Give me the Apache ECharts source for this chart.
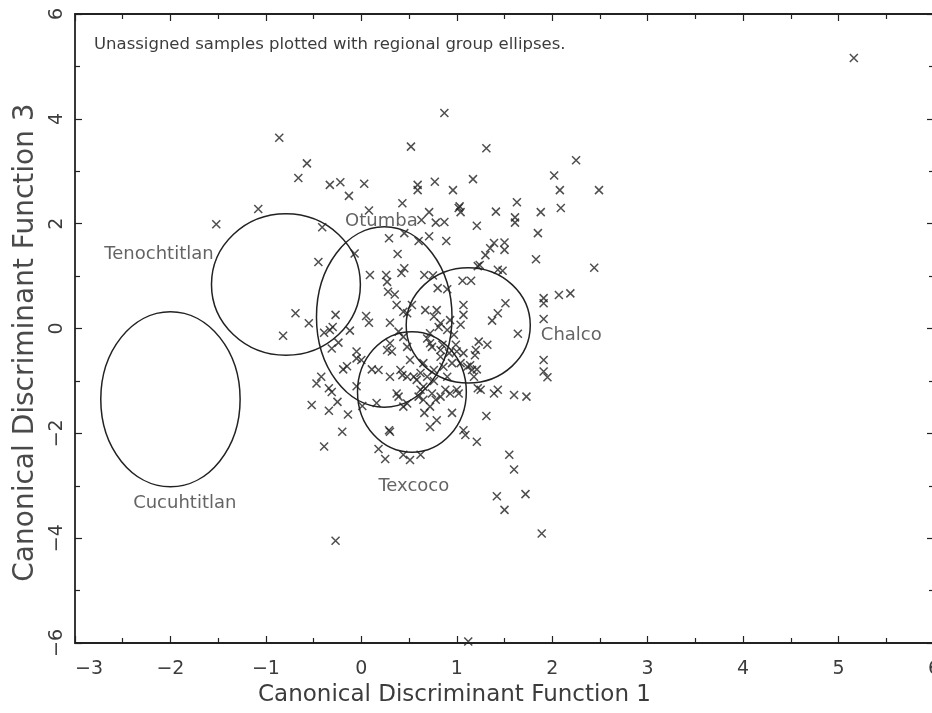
<!DOCTYPE html>
<html>
<head>
<meta charset="utf-8">
<script src="https://cdn.jsdelivr.net/npm/echarts@6/dist/echarts.min.js"></script>
<style>
html, body { margin: 0; padding: 0; background: #fff; }
#chart { width: 932px; height: 713px; }
</style>
</head>
<body>
<div id="chart"></div>
<script>
// unassigned samples (function 1, function 3)
var samples = [
  [0.87,4.11],[-0.86,3.64],[0.52,3.47],[1.31,3.44],[-0.57,3.15],[-0.66,2.87],[-0.33,2.74],[-0.22,2.79],
  [0.03,2.76],[-0.13,2.53],[0.59,2.74],[0.59,2.64],[0.77,2.80],[0.96,2.64],[1.17,2.85],[-1.08,2.28],
  [-1.52,1.99],[-0.41,1.93],[0.08,2.25],[0.43,2.39],[0.71,2.22],[0.63,2.07],[0.78,2.02],[0.87,2.03],
  [1.02,2.30],[1.03,2.33],[1.04,2.22],[1.41,2.23],[1.21,1.96],[0.45,1.82],[0.29,1.72],[0.60,1.67],
  [0.71,1.76],[0.89,1.67],[0.38,1.42],[-0.07,1.43],[-0.45,1.27],[0.09,1.02],[0.26,1.02],[0.27,0.89],
  [0.42,1.06],[0.45,1.15],[0.66,1.02],[0.75,1.01],[0.80,0.77],[0.90,0.75],[1.06,0.91],[1.15,0.91],
  [1.24,1.21],[1.22,1.19],[1.30,1.40],[1.35,1.53],[1.39,1.63],[1.43,1.12],[0.28,0.70],[0.35,0.65],
  [2.25,3.21],[2.02,2.92],[2.08,2.64],[2.49,2.64],[1.63,2.41],[1.88,2.22],[2.09,2.30],[1.61,2.12],
  [1.61,2.02],[1.85,1.82],[1.50,1.64],[1.50,1.50],[1.48,1.10],[1.83,1.32],[2.44,1.16],[1.91,0.58],
  [2.07,0.64],[2.19,0.67],[1.91,0.48],[1.91,0.18],[1.64,-0.10],[1.51,0.48],[1.43,0.29],[1.37,0.15],
  [1.07,0.45],[1.07,0.26],[1.04,0.07],[1.91,-0.60],[1.91,-0.82],[1.95,-0.93],[1.23,-0.25],[1.32,-0.31],
  [1.20,-0.41],[1.19,-0.51],[1.14,-0.70],[1.21,-0.78],[1.18,-0.92],[1.22,-1.14],[1.25,-1.17],[1.39,-1.24],
  [1.43,-1.17],[1.60,-1.27],[1.73,-1.30],[1.31,-1.67],[1.07,-1.94],[1.09,-2.03],[1.21,-2.16],[1.55,-2.41],
  [1.60,-2.69],[1.42,-3.20],[1.72,-3.16],[1.50,-3.46],[1.89,-3.91],[1.02,-1.24],[0.95,-1.61],[0.79,-1.75],
  [0.72,-1.88],[0.66,-1.61],[0.62,-2.41],[0.51,-2.51],[0.44,-2.41],
  [-0.69,0.29],[-0.55,0.10],[-0.82,-0.14],[-0.27,0.26],[-0.12,-0.04],[-0.39,-0.08],[-0.33,-0.03],[-0.30,0.03],
  [-0.24,-0.27],[-0.31,-0.38],[0.05,0.24],[0.08,0.11],[0.37,0.45],[0.30,0.11],[0.44,0.32],[0.53,0.45],
  [-0.05,-0.44],[0.00,-0.60],[-0.05,-0.57],[-0.19,-0.78],[-0.15,-0.72],[-0.42,-0.92],[-0.47,-1.05],[-0.34,-1.14],
  [-0.31,-1.21],[-0.05,-1.10],[-0.25,-1.40],[-0.52,-1.46],[-0.34,-1.57],[-0.14,-1.64],[0.01,-1.48],[0.16,-1.42],
  [-0.20,-1.97],[-0.39,-2.25],[0.11,-0.78],[0.18,-0.79],[0.27,-0.41],[0.30,-0.28],[0.32,-0.44],[0.30,-0.92],
  [0.29,-1.94],[0.30,-1.97],[0.18,-2.30],[0.25,-2.49],
  [0.39,-0.06],[0.44,-0.16],[0.48,-0.35],[0.51,-0.60],[0.41,-0.79],[0.43,-0.89],[0.48,-0.92],[0.55,-0.92],
  [0.37,-1.24],[0.39,-1.30],[0.44,-1.49],[0.48,-1.43],[0.58,-0.98],[0.62,-1.17],[0.65,-0.66],[0.65,-1.11],
  [0.69,-0.19],[0.72,-0.09],[0.74,-0.35],[0.76,0.23],[0.79,0.35],[0.81,0.03],[0.83,-0.54],[0.85,-0.31],
  [0.86,-0.73],[0.90,-0.92],[0.92,-0.47],[0.93,0.16],[0.95,-0.66],[0.97,-0.12],[0.99,-0.31],[1.00,-0.44],
  [1.04,-0.66],[1.07,-0.47],[1.11,-0.73],[1.16,-0.79],[0.69,-0.92],[0.74,-1.24],[0.78,-1.36],[0.83,-1.30],
  [0.88,-1.17],[0.93,-1.24],[1.00,-1.17],[0.76,-0.79],[0.60,-1.30],[0.65,-1.36],[0.72,-1.49],
  [0.48,0.29],[0.67,0.35],[0.83,0.10],[0.90,-0.03],[0.72,-0.28],[0.83,-0.41],[0.62,-0.85],[0.76,-1.00],
  [-0.27,-4.05],[1.12,-5.97],[5.16,5.16]
];

// regional group ellipses: centre and half-axes in function units
var groupNames   = ['Cucuhtitlan', 'Tenochtitlan', 'Otumba', 'Chalco', 'Texcoco'];
var groupCenterX = [-2.00, -0.79, 0.24, 1.12, 0.53];
var groupCenterY = [-1.35, 0.84, 0.22, 0.06, -1.21];
var groupRadiusX = [0.73, 0.78, 0.71, 0.65, 0.57];
var groupRadiusY = [1.67, 1.35, 1.72, 1.10, 1.15];
// where each group's name is written
var groupLabelX  = [-1.85, -2.12, 0.21, 2.20, 0.55];
var groupLabelY  = [-3.33, 1.42, 2.05, -0.13, -3.02];

var xTicks = [-3, -2, -1, 0, 1, 2, 3, 4, 5, 6];
var yTicks = [-6, -4, -2, 0, 2, 4, 6];

var chart = echarts.init(document.getElementById('chart'));

var ink = '#222';
var font = 'DejaVu Sans';
var textInk = '#3c3c3c';

var ellipseData = groupNames.map(function (n, i) {
  return { name: n, value: [groupCenterX[i], groupCenterY[i], groupRadiusX[i], groupRadiusY[i]] };
});
var labelData = groupNames.map(function (n, i) {
  return { name: n, value: [groupLabelX[i], groupLabelY[i]] };
});

var axisCommon = {
  type: 'value',
  axisLine: { show: true, onZero: false, lineStyle: { color: ink, width: 1.8 } },
  axisTick: { show: true, inside: true, length: 7, lineStyle: { color: ink, width: 1.2 } },
  minorTick: { show: true, splitNumber: 2, length: 5, lineStyle: { color: ink, width: 1.2 } },
  splitLine: { show: false },
  minorSplitLine: { show: false }
};

option = {
  animation: false,
  backgroundColor: '#fff',
  textStyle: { fontFamily: font },
  title: {
    text: 'Unassigned samples plotted with regional group ellipses.',
    left: 89, top: 31,
    textStyle: { fontFamily: font, fontSize: 16.5, fontWeight: 'normal', color: textInk }
  },
  grid: { left: 75, top: 14, width: 859, height: 629, outerBoundsMode: 'none' },
  xAxis: [
    Object.assign({}, axisCommon, {
      position: 'bottom', min: -3, max: 6, interval: 1,
      name: 'Canonical Discriminant Function 1',
      nameLocation: 'middle', nameGap: 37,
      nameTextStyle: { fontFamily: font, fontSize: 23, color: textInk, padding: [0, 100, 0, 0] },
      axisLabel: {
        margin: 17, fontSize: 19, color: textInk, fontFamily: font,
        alignMinLabel: 'left',
        formatter: function (v) { return xTicks.indexOf(v) >= 0 ? String(v).replace('-', '\u2212') : ''; }
      }
    }),
    Object.assign({}, axisCommon, {
      position: 'top', min: -3, max: 6, interval: 1,
      axisLabel: { show: false }
    })
  ],
  yAxis: [
    Object.assign({}, axisCommon, {
      position: 'left', min: -6, max: 6, interval: 2,
      name: 'Canonical Discriminant Function 3',
      nameLocation: 'middle', nameGap: 33,
      nameTextStyle: { fontFamily: font, fontSize: 28, color: '#4a4a4a', padding: [0, 28, 0, 0] },
      axisLabel: {
        margin: 8, rotate: 90, fontSize: 19, color: textInk, fontFamily: font,
        formatter: function (v) { return yTicks.indexOf(v) >= 0 ? String(v).replace('-', '\u2212') : ''; }
      }
    }),
    Object.assign({}, axisCommon, {
      position: 'right', min: -6, max: 6, interval: 2,
      axisLabel: { show: false }
    })
  ],
  series: [
    {
      type: 'custom',
      name: 'groups',
      xAxisIndex: 0, yAxisIndex: 0,
      data: ellipseData,
      renderItem: function (params, api) {
        var c = api.coord([api.value(0), api.value(1)]);
        var s = api.size([api.value(2), api.value(3)]);
        return {
          type: 'ellipse',
          shape: { cx: c[0], cy: c[1], rx: s[0], ry: s[1] },
          style: { fill: null, stroke: ink, lineWidth: 1.5 }
        };
      },
      silent: true
    },
    {
      type: 'scatter',
      name: 'samples',
      data: samples,
      symbol: 'path://M0,0L10,10M10,0L0,10',
      symbolSize: 8,
      itemStyle: { color: 'none', borderColor: ink, borderWidth: 1.5 },
      silent: true
    },
    {
      type: 'scatter',
      name: 'labels',
      data: labelData,
      symbolSize: 0,
      label: {
        show: true, position: 'inside', formatter: '{b}',
        fontFamily: font, fontSize: 18, color: textInk
      },
      silent: true
    }
  ]
};

chart.setOption(option);
</script>
</body>
</html>
